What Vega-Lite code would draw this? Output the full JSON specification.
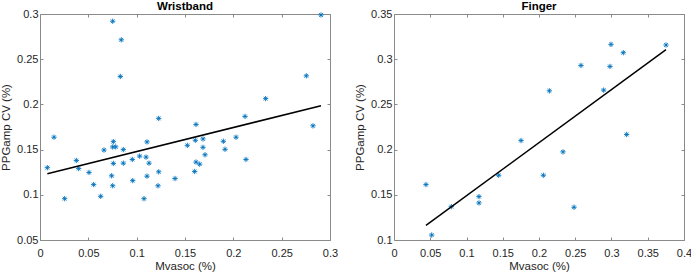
{
  "$schema": "https://vega.github.io/schema/vega-lite/v6.json",
  "padding": {"left": 0, "top": 0, "right": 5, "bottom": 0},
  "background": "white",
  "spacing": 64,
  "bounds": "flush",
  "config": {
    "font": "Liberation Sans",
    "view": {"stroke": "#8a8a8a", "strokeWidth": 1},
    "axis": {
      "grid": false,
      "domain": false,
      "tickColor": "#8a8a8a",
      "tickSize": -3,
      "labelColor": "#262626",
      "labelFont": "Liberation Sans",
      "labelFontSize": 11,
      "labelPadding": 5,
      "titleColor": "#262626",
      "titleFont": "Liberation Sans",
      "titleFontSize": 11.5,
      "titleFontWeight": "normal",
      "labelFlush": false,
      "labelOverlap": false,
      "format": "~g"
    },
    "axisBottom": {"labelPadding": 10},
    "title": {"font": "Liberation Sans", "fontSize": 11.5, "fontWeight": "bold", "color": "#000000", "offset": -4}
  },
  "datasets": {
    "wrist": [
      {"x": 0.0076, "y": 0.130}, {"x": 0.0145, "y": 0.1637}, {"x": 0.0255, "y": 0.0957},
      {"x": 0.0376, "y": 0.138}, {"x": 0.040, "y": 0.129}, {"x": 0.0507, "y": 0.1247},
      {"x": 0.0555, "y": 0.1113}, {"x": 0.0628, "y": 0.0983}, {"x": 0.0662, "y": 0.1495},
      {"x": 0.0752, "y": 0.292}, {"x": 0.0759, "y": 0.1588}, {"x": 0.0752, "y": 0.1529},
      {"x": 0.0783, "y": 0.153}, {"x": 0.0759, "y": 0.1347}, {"x": 0.0741, "y": 0.121},
      {"x": 0.0752, "y": 0.110}, {"x": 0.0841, "y": 0.2714}, {"x": 0.0831, "y": 0.2309},
      {"x": 0.0862, "y": 0.150}, {"x": 0.0862, "y": 0.135}, {"x": 0.0955, "y": 0.1391},
      {"x": 0.0959, "y": 0.1157}, {"x": 0.1031, "y": 0.1428}, {"x": 0.1097, "y": 0.1417},
      {"x": 0.1107, "y": 0.1585}, {"x": 0.1128, "y": 0.135}, {"x": 0.1107, "y": 0.1206},
      {"x": 0.1076, "y": 0.0957}, {"x": 0.1228, "y": 0.1845}, {"x": 0.1228, "y": 0.1254},
      {"x": 0.1221, "y": 0.110}, {"x": 0.1397, "y": 0.118}, {"x": 0.1524, "y": 0.1547},
      {"x": 0.1614, "y": 0.1778}, {"x": 0.1607, "y": 0.1603}, {"x": 0.160, "y": 0.1258},
      {"x": 0.1614, "y": 0.1362}, {"x": 0.1652, "y": 0.1339}, {"x": 0.1686, "y": 0.1618},
      {"x": 0.1686, "y": 0.1525}, {"x": 0.1707, "y": 0.1443}, {"x": 0.1897, "y": 0.1592},
      {"x": 0.1914, "y": 0.1503}, {"x": 0.2028, "y": 0.1637}, {"x": 0.2121, "y": 0.1867},
      {"x": 0.2131, "y": 0.1391}, {"x": 0.2334, "y": 0.2064}, {"x": 0.2755, "y": 0.2316},
      {"x": 0.2824, "y": 0.1763}, {"x": 0.2907, "y": 0.2989}
    ],
    "wristFit": [{"x": 0.0076, "y": 0.1232}, {"x": 0.2907, "y": 0.1986}],
    "finger": [
      {"x": 0.0441, "y": 0.1613}, {"x": 0.052, "y": 0.1055}, {"x": 0.0791, "y": 0.1369},
      {"x": 0.1172, "y": 0.148}, {"x": 0.1172, "y": 0.141}, {"x": 0.1444, "y": 0.1716},
      {"x": 0.1752, "y": 0.210}, {"x": 0.206, "y": 0.1716}, {"x": 0.2143, "y": 0.265},
      {"x": 0.2331, "y": 0.1975}, {"x": 0.2483, "y": 0.1362}, {"x": 0.2579, "y": 0.2931},
      {"x": 0.2892, "y": 0.2658}, {"x": 0.2979, "y": 0.292}, {"x": 0.2993, "y": 0.3164},
      {"x": 0.3163, "y": 0.3072}, {"x": 0.3209, "y": 0.2167}, {"x": 0.3752, "y": 0.3157}
    ],
    "fingerFit": [{"x": 0.0441, "y": 0.1162}, {"x": 0.3752, "y": 0.3105}]
  },
  "hconcat": [
    {
      "title": "Wristband",
      "width": 290,
      "height": 226,
      "layer": [
        {
          "data": {"name": "wrist"},
          "mark": {"type": "point", "shape": "M-1,0L1,0M0,-1L0,1M-0.7,-0.7L0.7,0.7M-0.7,0.7L0.7,-0.7", "filled": false, "stroke": "#0072BD", "strokeWidth": 0.9, "size": 28, "opacity": 1},
          "encoding": {
            "x": {"field": "x", "type": "quantitative", "scale": {"domain": [0, 0.3], "nice": false, "zero": false}, "axis": {"title": "Mvasoc (%)", "values": [0, 0.05, 0.1, 0.15, 0.2, 0.25, 0.3], "titlePadding": 2}},
            "y": {"field": "y", "type": "quantitative", "scale": {"domain": [0.05, 0.3], "nice": false, "zero": false}, "axis": {"title": "PPGamp CV (%)", "values": [0.05, 0.1, 0.15, 0.2, 0.25, 0.3], "titlePadding": 5}}
          }
        },
        {
          "data": {"name": "wristFit"},
          "mark": {"type": "line", "color": "#000000", "strokeWidth": 1.5},
          "encoding": {
            "x": {"field": "x", "type": "quantitative", "axis": {"orient": "top", "labels": false, "title": null, "minExtent": 0, "maxExtent": 0, "values": [0, 0.05, 0.1, 0.15, 0.2, 0.25, 0.3]}},
            "y": {"field": "y", "type": "quantitative", "axis": {"orient": "right", "labels": false, "title": null, "minExtent": 0, "maxExtent": 0, "values": [0.05, 0.1, 0.15, 0.2, 0.25, 0.3]}}
          }
        }
      ],
      "resolve": {"axis": {"x": "independent", "y": "independent"}}
    },
    {
      "title": "Finger",
      "width": 290,
      "height": 226,
      "layer": [
        {
          "data": {"name": "finger"},
          "mark": {"type": "point", "shape": "M-1,0L1,0M0,-1L0,1M-0.7,-0.7L0.7,0.7M-0.7,0.7L0.7,-0.7", "filled": false, "stroke": "#0072BD", "strokeWidth": 0.9, "size": 28, "opacity": 1},
          "encoding": {
            "x": {"field": "x", "type": "quantitative", "scale": {"domain": [0, 0.4], "nice": false, "zero": false}, "axis": {"title": "Mvasoc (%)", "values": [0, 0.05, 0.1, 0.15, 0.2, 0.25, 0.3, 0.35, 0.4], "titlePadding": 2}},
            "y": {"field": "y", "type": "quantitative", "scale": {"domain": [0.1, 0.35], "nice": false, "zero": false}, "axis": {"title": "PPGamp CV (%)", "values": [0.1, 0.15, 0.2, 0.25, 0.3, 0.35], "titlePadding": 5}}
          }
        },
        {
          "data": {"name": "fingerFit"},
          "mark": {"type": "line", "color": "#000000", "strokeWidth": 1.5},
          "encoding": {
            "x": {"field": "x", "type": "quantitative", "axis": {"orient": "top", "labels": false, "title": null, "minExtent": 0, "maxExtent": 0, "values": [0, 0.05, 0.1, 0.15, 0.2, 0.25, 0.3, 0.35, 0.4]}},
            "y": {"field": "y", "type": "quantitative", "axis": {"orient": "right", "labels": false, "title": null, "minExtent": 0, "maxExtent": 0, "values": [0.1, 0.15, 0.2, 0.25, 0.3, 0.35]}}
          }
        }
      ],
      "resolve": {"axis": {"x": "independent", "y": "independent"}}
    }
  ]
}
